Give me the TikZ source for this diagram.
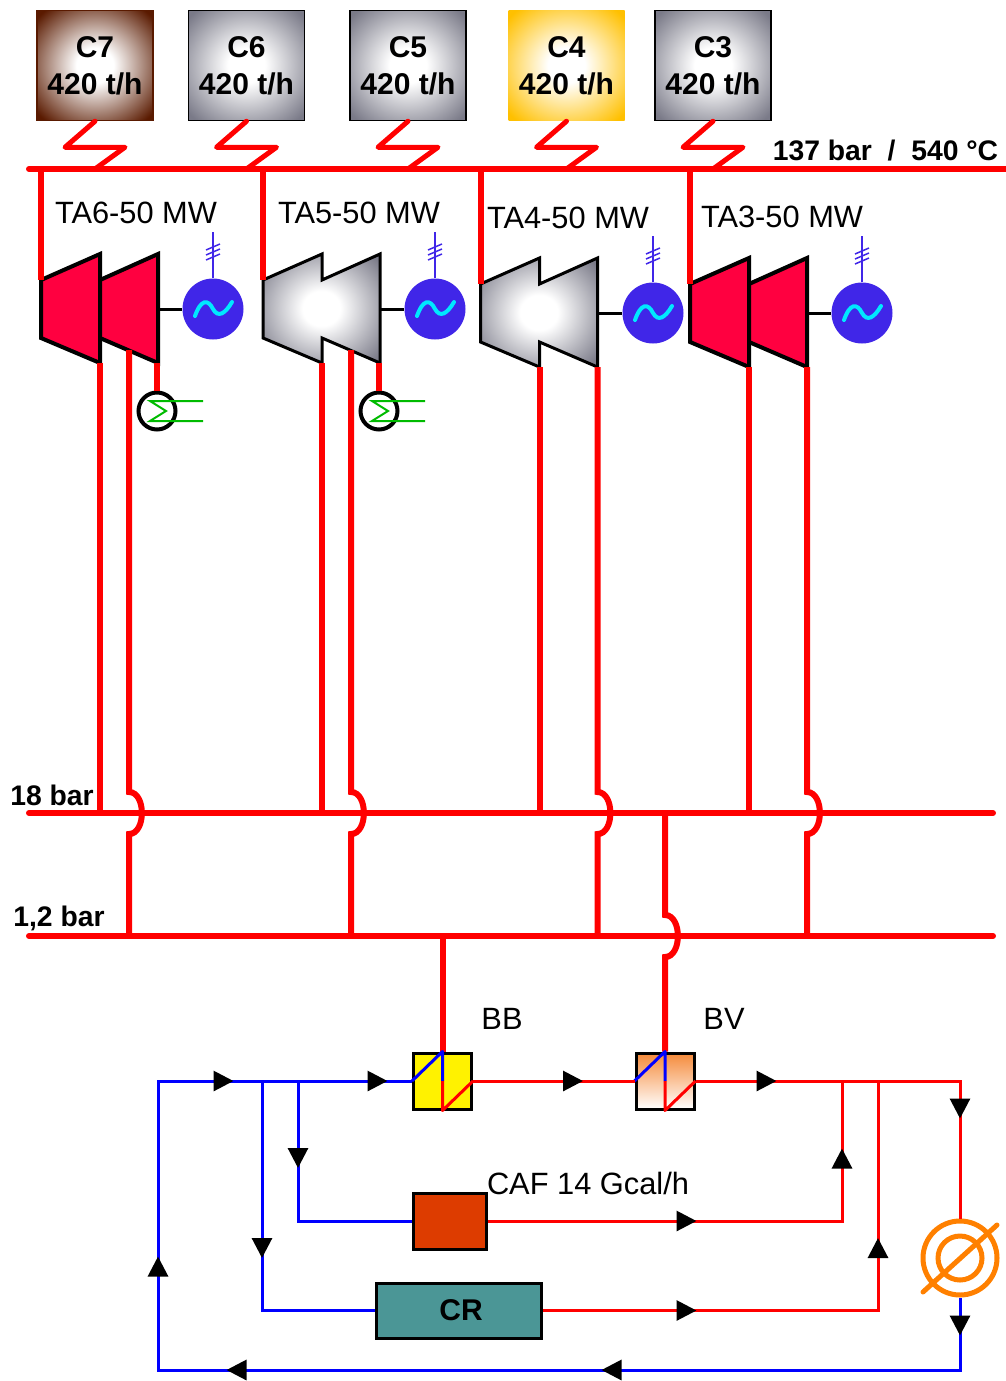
\documentclass[tikz,border=0pt]{standalone}
\usepackage{fontspec}
\setmainfont{Liberation Sans}
\usepackage{xcolor}
\usepackage{tikz}
\usetikzlibrary{arrows.meta, positioning, decorations.markings}

\definecolor{steamred}{HTML}{FF0000}
\definecolor{waterblue}{HTML}{0000FF}
\definecolor{turbinered}{HTML}{FF0040}
\definecolor{genblue}{HTML}{4026E8}
\definecolor{sinecyan}{HTML}{00E8FF}
\definecolor{steelgray}{HTML}{7A7A88}
\definecolor{browncoal}{HTML}{5A1A00}
\definecolor{ambercoal}{HTML}{FFC000}
\definecolor{cafred}{HTML}{DD3C00}
\definecolor{crteal}{HTML}{4B9696}
\definecolor{pumporange}{HTML}{FF8000}
\definecolor{coilgreen}{HTML}{00BB00}
\definecolor{bvorange}{HTML}{F58A3A}
\colorlet{glowcolor}{white}
\pgfdeclareradialshading[glowcolor]{centerglow}{\pgfpointorigin}{color(0bp)=(white); color(8bp)=(white); color(33bp)=(glowcolor); color(50bp)=(glowcolor)}

\begin{document}
\begin{tikzpicture}[
        x=1pt, y=-1pt,
        glow/.style={shade, shading=centerglow, /utils/exec={\colorlet{glowcolor}{#1}}},
        boiler/.style={rectangle, line width=1.5pt, inner sep=0pt, minimum width=116pt, minimum height=110pt, align=center, font=\fontsize{30}{37}\selectfont\bfseries},
        tagname/.style={font=\fontsize{30.8}{34}\selectfont},
        busname/.style={font=\fontsize{28.3}{32}\selectfont\bfseries},
        exchanger/.style={rectangle, draw, line width=3pt, inner sep=0pt, minimum width=58pt, minimum height=56pt},
        pipe/.style={draw=steamred, line width=6pt},
        zigzag/.style={draw=steamred, line width=5pt, line cap=round, line join=round},
        redflow/.style={draw=steamred, line width=3pt},
        blueflow/.style={draw=waterblue, line width=3pt},
        tipat/.style={postaction={decorate, decoration={markings, mark=at position #1 with {\arrow{Triangle[color=black, length=20pt, width=20pt]}}}}},
        hop/.style={out=0, in=0, looseness=1.05},
        casing/.style={draw=black, line width=4pt, line join=miter},
        shaft/.style={draw=black, line width=3pt},
        pics/redturbine/.style={code={
            \path[casing, fill=turbinered] (0,26) -- (59,0) -- (59,109) -- (0,84) -- cycle;
            \path[casing, fill=turbinered] (59,26) -- (117,0) -- (117,109) -- (59,84) -- cycle;
            \coordinate (-in) at (0,26);
            \coordinate (-a) at (59,109);
            \coordinate (-b) at (88,96);
            \coordinate (-c) at (117,109);
            \coordinate (-drain) at (116,109);
            \coordinate (-shaft) at (117,55);
        }},
        pics/grayturbine/.style={code={
            \path[casing, line width=3pt, glow=steelgray] (0,26) -- (59,0) -- (59,26) -- (117,0) -- (117,109) -- (59,84) -- (59,109) -- (0,84) -- cycle;
            \coordinate (-in) at (0,26);
            \coordinate (-a) at (59,109);
            \coordinate (-b) at (88,96);
            \coordinate (-c) at (117,109);
            \coordinate (-drain) at (116,109);
            \coordinate (-shaft) at (117,55);
        }},
        pics/generator/.style={code={
            \node[circle, fill=genblue, inner sep=0pt, minimum size=61pt] (-body) at (0,0) {};
            \draw[genblue, line width=1.5pt] (-body.north) -- (0,-77);
            \draw[genblue, line width=1.5pt] (-7,-59) -- (7,-65) (-7,-54) -- (7,-60) (-7,-49) -- (7,-55);
            \draw[sinecyan, line width=4pt, line cap=round] (-18,7) .. controls (-12,-10) and (-5,-10) .. (0,0) .. controls (5,9) and (12,5) .. (19,-7);
        }},
        pics/condenser/.style={code={
            \node[circle, draw, fill=white, line width=4pt, inner sep=0pt, minimum size=37pt] (-shell) at (0,0) {};
            \draw[coilgreen, line width=2pt] (46,-10) -- (-7,-10) -- (9,0) -- (-7,10) -- (46,10);
        }}
        ]
        \useasboundingbox (0,0) rectangle (1006,1381);

        % Buses
        \coordinate (hpw) at (29,169);
        \coordinate (hpe) at (1006,169);
        \coordinate (mpw) at (29,813);
        \coordinate (mpe) at (993,813);
        \coordinate (mpt) at (0,792);
        \coordinate (mpb) at (0,834);
        \coordinate (lpw) at (29,936);
        \coordinate (lpe) at (993,936);
        \coordinate (lpt) at (0,915);
        \coordinate (lpb) at (0,957);

        % Boilers
        \node [boiler, glow=browncoal, draw=browncoal] (c7) at (95,65.5) {C7\\420 t/h};
        \node [boiler, glow=steelgray, draw=black] (c6) at (246.5,65.5) {C6\\420 t/h};
        \node [boiler, glow=steelgray, draw=black] (c5) at (408,65.5) {C5\\420 t/h};
        \node [boiler, glow=ambercoal] (c4) at (566.5,65.5) {C4\\420 t/h};
        \node [boiler, glow=steelgray, draw=black] (c3) at (713,65.5) {C3\\420 t/h};

        % Turbines
        \pic (ta6) at (41,254) {redturbine};
        \pic (ta5) at (263,254) {grayturbine};
        \pic (ta4) at (480.5,258) {grayturbine};
        \pic (ta3) at (690,258) {redturbine};
        \pic (gen6) at (213,309) {generator};
        \pic (gen5) at (435,309) {generator};
        \pic (gen4) at (653,313) {generator};
        \pic (gen3) at (862,313) {generator};
        \pic (cond6) at (157,411) {condenser};
        \pic (cond5) at (379,411) {condenser};

        % Labels
        \node [tagname] (ta6name) at (136,213) {TA6-50 MW};
        \node [tagname] (ta5name) at (359,213) {TA5-50 MW};
        \node [tagname] (ta4name) at (568,218) {TA4-50 MW};
        \node [tagname] (ta3name) at (782,217) {TA3-50 MW};
        \node [busname] (hpname) at (885.5,151) {137 bar\ \ /\ \ 540 °C};
        \node [busname] (mpname) at (52,795) {18 bar};
        \node [busname] (lpname) at (59,918) {1,2 bar};

        % Heat users
        \node [exchanger, fill=yellow] (bb) at (442.5,1081) {};
        \node [exchanger, top color=bvorange, bottom color=white] (bv) at (665,1081) {};
        \node [rectangle, draw, line width=3pt, fill=cafred, inner sep=0pt, minimum width=73pt, minimum height=56pt] (caf) at (449.5,1221) {};
        \node [rectangle, draw, line width=3pt, fill=crteal, inner sep=0pt, minimum width=165pt, minimum height=55pt, font=\fontsize{30}{34}\selectfont\bfseries] (cr) at (458.5,1310.5) {\hspace{5pt}CR};
        \node [tagname] (bbname) at (502,1019) {BB};
        \node [tagname] (bvname) at (724,1019) {BV};
        \node [tagname] (cafname) at (588,1183) {CAF 14 Gcal/h};
        \node [circle, draw=pumporange, line width=5pt, inner sep=0pt, minimum size=74pt] (pump) at (960,1258) {};
        \node [circle, draw=pumporange, line width=5pt, inner sep=0pt, minimum size=44pt] (pumpcore) at (pump.center) {};
        \draw [draw=pumporange, line width=5pt, line cap=round] (pump.center) +(-37,34) -- +(37,-33);

        % Water loop corners
        \coordinate (loopse) at (960,1370);
        \coordinate (loopsw) at (158,1370);
        \coordinate (loopnw) at (158,1081);
        \coordinate (cafdrop) at (298,1081);
        \coordinate (crdrop) at (262,1081);
        \coordinate (retne) at (960,1081);
        \coordinate (cafrise) at (842,1081);
        \coordinate (crrise) at (878,1081);

        % Edges
        \path [zigzag] (c7.south) -- ++(-30,26) -- ++(60,0) -- (c7.south |- hpw);
        \path [zigzag] (c6.south) -- ++(-30,26) -- ++(60,0) -- (c6.south |- hpw);
        \path [zigzag] (c5.south) -- ++(-30,26) -- ++(60,0) -- (c5.south |- hpw);
        \path [zigzag] (c4.south) -- ++(-30,26) -- ++(60,0) -- (c4.south |- hpw);
        \path [zigzag] (c3.south) -- ++(-30,26) -- ++(60,0) -- (c3.south |- hpw);

        \path [pipe, line cap=round] (hpw) -- (hpe);
        \path [pipe, line cap=round] (mpw) -- (mpe);
        \path [pipe, line cap=round] (lpw) -- (lpe);

        \path [pipe] (ta6-in |- hpw) -- (ta6-in);
        \path [pipe] (ta5-in |- hpw) -- (ta5-in);
        \path [pipe] (ta4-in |- hpw) -- (ta4-in);
        \path [pipe] (ta3-in |- hpw) -- (ta3-in);

        \path [shaft] (ta6-shaft) -- (gen6-body);
        \path [shaft] (ta5-shaft) -- (gen5-body);
        \path [shaft] (ta4-shaft) -- (gen4-body);
        \path [shaft] (ta3-shaft) -- (gen3-body);

        \path [pipe] (ta6-drain) -- (cond6-shell);
        \path [pipe] (ta5-drain) -- (cond5-shell);

        \path [pipe] (ta6-a) -- (ta6-a |- mpw);
        \path [pipe] (ta5-a) -- (ta5-a |- mpw);
        \path [pipe] (ta4-a) -- (ta4-a |- mpw);
        \path [pipe] (ta3-a) -- (ta3-a |- mpw);

        \path [pipe] (ta6-b) -- (ta6-b |- mpt) to[hop] (ta6-b |- mpb) -- (ta6-b |- lpw);
        \path [pipe] (ta5-b) -- (ta5-b |- mpt) to[hop] (ta5-b |- mpb) -- (ta5-b |- lpw);
        \path [pipe] (ta4-c) -- (ta4-c |- mpt) to[hop] (ta4-c |- mpb) -- (ta4-c |- lpw);
        \path [pipe] (ta3-c) -- (ta3-c |- mpt) to[hop] (ta3-c |- mpb) -- (ta3-c |- lpw);

        \path [pipe] (bb.north |- lpw) -- (bb.north);
        \path [pipe] (bv.north |- mpw) -- (bv.north |- lpt) to[hop] (bv.north |- lpb) -- (bv.north);

        \path [blueflow, line join=round] (bb.west) -- (bb.north) -- (bb.center);
        \path [redflow, line join=round] (bb.center) -- (bb.south) -- (bb.east);
        \path [blueflow, line join=round] (bv.west) -- (bv.north) -- (bv.center);
        \path [redflow, line join=round] (bv.center) -- (bv.south) -- (bv.east);

        \path [blueflow, tipat=38pt, tipat=431pt, tipat=806pt, tipat=988pt, tipat=1239pt, tipat=1393pt] (pump.south) -- (loopse) -- (loopsw) -- (loopnw) -- (bb.west);
        \path [blueflow, tipat=87pt] (cafdrop) |- (caf.west);
        \path [blueflow, tipat=177pt] (crdrop) |- (cr.west);
        \path [redflow, tipat=110pt] (bb.east) -- (bv.west);
        \path [redflow, tipat=81pt, tipat=302pt] (bv.east) -- (retne) -- (pump.north);
        \path [redflow, tipat=209pt, tipat=427pt] (caf.east) -| (cafrise);
        \path [redflow, tipat=154pt, tipat=408pt] (cr.east) -| (crrise);
    \end{tikzpicture}
\end{document}
